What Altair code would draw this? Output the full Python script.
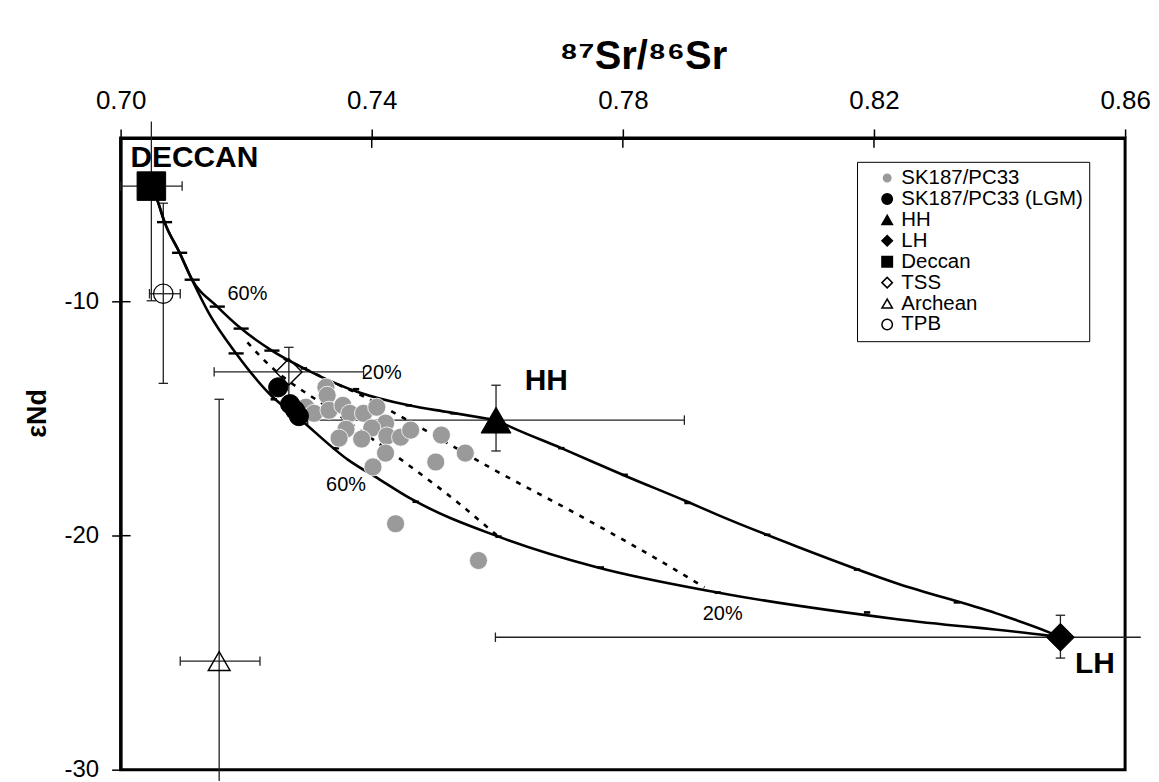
import altair as alt
import pandas as pd

# ---------------- data ----------------
SERIES = ["SK187/PC33", "SK187/PC33 (LGM)", "HH", "LH", "Deccan", "TSS", "Archean", "TPB"]

sk_x = [0.7327, 0.7329, 0.7295, 0.7308, 0.7332, 0.7354, 0.7365, 0.7387, 0.7408, 0.7422,
        0.7359, 0.7400, 0.7348, 0.7384, 0.7424, 0.7446, 0.7462, 0.7422, 0.7402, 0.7511,
        0.7549, 0.7502, 0.7438, 0.7570]
sk_y = [-13.66, -14.00, -14.51, -14.77, -14.64, -14.43, -14.77, -14.77, -14.51, -15.19,
        -15.45, -15.40, -15.83, -15.87, -15.74, -15.79, -15.49, -16.47, -17.06, -15.70,
        -16.47, -16.85, -19.49, -21.06]

lgm_x = [0.7251, 0.7270, 0.7278, 0.7284]
lgm_y = [-13.66, -14.38, -14.64, -14.89]

end_names = ["HH", "LH", "Deccan", "TSS", "Archean", "TPB"]
end_x = [0.7598, 0.8497, 0.7049, 0.7268, 0.7157, 0.7068]
end_y = [-15.06, -24.34, -5.06, -13.00, -25.36, -9.66]
err_x_lo = [0.7298, 0.7597, 0.7000, 0.7149, 0.7095, 0.7046]
err_x_hi = [0.7898, 0.8625, 0.7098, 0.7387, 0.7222, 0.7095]
err_y_lo = [-16.38, -25.23, -9.96, -14.05, -36.50, -13.49]
err_y_hi = [-13.57, -23.40, -2.30, -11.95, -14.17, -5.79]

# mixing curves
upper_x = [0.7049, 0.7059, 0.7070, 0.7094, 0.7113, 0.7154, 0.7192, 0.7241, 0.7295, 0.7379,
           0.7459, 0.7522, 0.7598]
upper_y = [-5.06, -5.70, -6.60, -7.91, -9.02, -10.21, -11.15, -12.09, -12.89, -13.87,
           -14.43, -14.72, -15.06]
hhlh_x = [0.7598, 0.7622, 0.7702, 0.7808, 0.7903, 0.7951, 0.8078, 0.8237, 0.8395, 0.8479, 0.8497]
hhlh_y = [-15.06, -15.36, -16.26, -17.49, -18.55, -19.11, -20.47, -22.04, -23.32, -24.13, -24.34]
lower_x = [0.7049, 0.7059, 0.7070, 0.7094, 0.7113, 0.7141, 0.7184, 0.7241, 0.7284, 0.7363,
           0.7411, 0.7463, 0.7602, 0.7760, 0.7951, 0.8237, 0.8475, 0.8497]
lower_y = [-5.06, -5.70, -6.60, -7.91, -9.02, -10.51, -12.21, -14.04, -14.98, -16.77,
           -17.57, -18.43, -20.04, -21.36, -22.43, -23.57, -24.26, -24.34]
dash1_x = [0.7260, 0.7332, 0.7390, 0.7479, 0.7590, 0.7729, 0.7883, 0.7930]
dash1_y = [-12.43, -13.36, -14.09, -15.40, -17.11, -19.11, -21.45, -22.21]
dash2_x = [0.7202, 0.7229, 0.7341, 0.7454, 0.7538, 0.7600]
dash2_y = [-11.74, -12.51, -14.72, -16.89, -18.60, -20.00]

# mixing-step tick marks on the curves
tick_big_x = [0.7070, 0.7094, 0.7114, 0.7154, 0.7192, 0.7241, 0.7184]
tick_big_y = [-6.60, -7.91, -9.06, -10.21, -11.15, -12.09, -12.21]
tick_small_x = [0.7292, 0.7375, 0.7459, 0.7530,
                0.7702, 0.7803, 0.7903, 0.8030, 0.8173, 0.8332,
                0.7244, 0.7343, 0.7470, 0.7602, 0.7765, 0.7951, 0.8189]
tick_small_y = [-12.85, -13.74, -14.43, -14.77,
                -16.26, -17.40, -18.60, -19.96, -21.45, -22.85,
                -14.17, -16.26, -18.55, -20.04, -21.36, -22.43, -23.28]

# annotations
bold_text = ["DECCAN", "HH", "LH"]
bold_x = [0.71175, 0.7678, 0.8552]
bold_y = [-3.87, -13.40, -25.49]
pct_text = ["60%", "20%", "60%", "20%"]
pct_x = [0.7202, 0.7416, 0.7359, 0.7959]
pct_y = [-9.66, -13.06, -17.83, -23.36]

X_TICKS = [0.70, 0.74, 0.78, 0.82, 0.86]
Y_TICKS = [-10, -20, -30]
X_DOMAIN = [0.70, 0.86]
Y_DOMAIN = [-30, -3]

# ---------------- styles ----------------
SHAPES = ["circle", "circle", "triangle-up", "diamond", "square", "diamond", "triangle-up", "circle"]
FILLS = ["#9a9a9a", "black", "black", "black", "black", "transparent", "transparent", "transparent"]
STROKES = ["white", "black", "black", "black", "black", "black", "black", "black"]
SIZES = {"SK187/PC33": 330, "SK187/PC33 (LGM)": 370, "HH": 900, "LH": 784, "Deccan": 820,
         "TSS": 700, "Archean": 480, "TPB": 380}
SW = {"SK187/PC33": 0.8, "SK187/PC33 (LGM)": 1.0, "HH": 1.0, "LH": 1.0, "Deccan": 1.0,
      "TSS": 1.4, "Archean": 1.4, "TPB": 1.2}
FONT = "Liberation Sans"

# ---------------- tables ----------------
rows = []
for x, y in zip(sk_x, sk_y):
    rows.append({"x": x, "y": y, "series": "SK187/PC33"})
for x, y in zip(lgm_x, lgm_y):
    rows.append({"x": x, "y": y, "series": "SK187/PC33 (LGM)"})
for n, x, y in zip(end_names, end_x, end_y):
    rows.append({"x": x, "y": y, "series": n})
pts = pd.DataFrame(rows)
pts["sz"] = pts["series"].map(SIZES)
pts["sw"] = pts["series"].map(SW)

err = pd.DataFrame({"name": end_names, "x": end_x, "y": end_y,
                    "xlo": err_x_lo, "xhi": err_x_hi, "ylo": err_y_lo, "yhi": err_y_hi})

def inside(x, y):
    return X_DOMAIN[0] <= x <= X_DOMAIN[1] and Y_DOMAIN[0] <= y <= Y_DOMAIN[1]

caps_h = []  # caps of horizontal bars (vertical strokes)
caps_v = []  # caps of vertical bars (horizontal strokes)
for r in err.itertuples():
    for xx in (r.xlo, r.xhi):
        if inside(xx, r.y):
            caps_h.append({"x": xx, "y": r.y})
    for yy in (r.ylo, r.yhi):
        if inside(r.x, yy):
            caps_v.append({"x": r.x, "y": yy})
caps_h = pd.DataFrame(caps_h)
caps_v = pd.DataFrame(caps_v)

curve_rows = []
for cid, xs_, ys_ in [("upper", upper_x, upper_y), ("hhlh", hhlh_x, hhlh_y), ("lower", lower_x, lower_y)]:
    for i, (x, y) in enumerate(zip(xs_, ys_)):
        curve_rows.append({"curve": cid, "i": i, "x": x, "y": y})
solid = pd.DataFrame(curve_rows)
dash_rows = []
for cid, xs_, ys_ in [("d1", dash1_x, dash1_y), ("d2", dash2_x, dash2_y)]:
    for i, (x, y) in enumerate(zip(xs_, ys_)):
        dash_rows.append({"curve": cid, "i": i, "x": x, "y": y})
dashed = pd.DataFrame(dash_rows)

tb = pd.DataFrame({"x": tick_big_x, "y": tick_big_y})
ts = pd.DataFrame({"x": tick_small_x, "y": tick_small_y})
bold_df = pd.DataFrame({"t": bold_text, "x": bold_x, "y": bold_y})
pct_df = pd.DataFrame({"t": pct_text, "x": pct_x, "y": pct_y})
xt_df = pd.DataFrame({"x": X_TICKS})
yt_df = pd.DataFrame({"y": Y_TICKS})

# ---------------- encodings ----------------
xs = alt.Scale(domain=X_DOMAIN, nice=False, zero=False)
ys = alt.Scale(domain=Y_DOMAIN, nice=False, zero=False)

X_TITLE = "⁸⁷Sr/⁸⁶Sr"
Y_TITLE = "εNd"
x_axis = alt.Axis(orient="top", values=X_TICKS, format=".2f", title=X_TITLE,
                  titleFont=FONT, titleFontSize=40, titleFontWeight="bold",
                  titleX=524, titleY=-70, titleBaseline="alphabetic", titleAlign="center",
                  labelFontSize=26, labelPadding=15, tickSize=9, labelFlush=False)
y_axis = alt.Axis(values=Y_TICKS, labelExpr="'' + datum.value", title=Y_TITLE,
                  titleFont=FONT, titleFontSize=27, titleFontWeight="bold",
                  titleX=-83, titleY=276, titleBaseline="middle", titleAlign="center",
                  labelFontSize=24, labelPadding=13, tickSize=9, labelFlush=False)

def X(field="x"):
    return alt.X(f"{field}:Q", scale=xs, axis=x_axis, title=X_TITLE)

def Y(field="y"):
    return alt.Y(f"{field}:Q", scale=ys, axis=y_axis, title=Y_TITLE)

ERR_COLOR = "#222222"

err_h = alt.Chart(err).mark_rule(color=ERR_COLOR, strokeWidth=1.3).encode(
    x=X("xlo"), x2="xhi:Q", y=Y("y"))
err_v = alt.Chart(err).mark_rule(color=ERR_COLOR, strokeWidth=1.3).encode(
    x=X("x"), y=Y("ylo"), y2="yhi:Q")
cap_h = alt.Chart(caps_h).mark_point(shape="stroke", angle=90, size=90, color=ERR_COLOR,
                                     strokeWidth=1.3, opacity=1).encode(x=X(), y=Y())
cap_v = alt.Chart(caps_v).mark_point(shape="stroke", size=90, color=ERR_COLOR,
                                     strokeWidth=1.3, opacity=1).encode(x=X(), y=Y())

# inward halves of the axis ticks
in_xt = alt.Chart(xt_df).mark_rule(color="black", strokeWidth=1.5).encode(
    x=X(), y=alt.value(0), y2=alt.value(10))
in_yt = alt.Chart(yt_df).mark_rule(color="black", strokeWidth=1.5).encode(
    y=Y(), x=alt.value(0), x2=alt.value(10))

solid_l = alt.Chart(solid).mark_line(color="black", strokeWidth=2.6, interpolate="monotone").encode(
    x=X(), y=Y(), detail="curve:N", order="i:Q")
dashed_l = alt.Chart(dashed).mark_line(color="black", strokeWidth=2.6, strokeDash=[5, 7],
                                        interpolate="monotone").encode(
    x=X(), y=Y(), detail="curve:N", order="i:Q")
ticks_big = alt.Chart(tb).mark_point(shape="stroke", size=230, color="black", strokeWidth=2.4,
                                     opacity=1).encode(x=X(), y=Y())
ticks_small = alt.Chart(ts).mark_point(shape="stroke", size=40, color="black", strokeWidth=2.6,
                                       opacity=1).encode(x=X(), y=Y())

leg = alt.Legend(orient="none", legendX=739, legendY=24, labelFont=FONT, labelFontSize=20.5,
                 labelColor="black", symbolSize=110, symbolStrokeWidth=1.5,
                 strokeColor="black", fillColor="white", padding=6, rowPadding=0,
                 symbolOffset=14, labelOffset=4, labelLimit=400)

points = alt.Chart(pts).mark_point(filled=True, opacity=1).encode(
    x=X(), y=Y(),
    shape=alt.Shape("series:N", scale=alt.Scale(domain=SERIES, range=SHAPES), legend=leg, title=None),
    fill=alt.Fill("series:N", scale=alt.Scale(domain=SERIES, range=FILLS), legend=leg, title=None),
    stroke=alt.Stroke("series:N", scale=alt.Scale(domain=SERIES, range=STROKES), legend=leg, title=None),
    size=alt.Size("sz:Q", scale=None, legend=None),
    strokeWidth=alt.StrokeWidth("sw:Q", scale=None, legend=None),
)

txt_bold = alt.Chart(bold_df).mark_text(font=FONT, fontSize=30, fontWeight="bold", color="black",
                                        align="center", baseline="middle").encode(
    x=X(), y=Y(), text="t:N")
txt_pct = alt.Chart(pct_df).mark_text(font=FONT, fontSize=20, color="black",
                                      align="center", baseline="middle").encode(
    x=X(), y=Y(), text="t:N")

chart = alt.layer(err_h, err_v, cap_h, cap_v, in_xt, in_yt, solid_l, dashed_l, ticks_big,
                  ticks_small, points, txt_bold, txt_pct).properties(
    width=1008, height=634,
    autosize=alt.AutoSizeParams(type="none"),
    padding={"left": 113, "top": 129, "right": 26, "bottom": 10},
).configure_view(stroke="black", strokeWidth=3).configure_axis(
    labelFont=FONT, labelColor="black", titleColor="black", tickColor="black", tickWidth=1.5,
    domainColor="black", domainWidth=3, grid=False,
)

chart.save("out.html", embed_options={"renderer": "svg", "actions": False})
